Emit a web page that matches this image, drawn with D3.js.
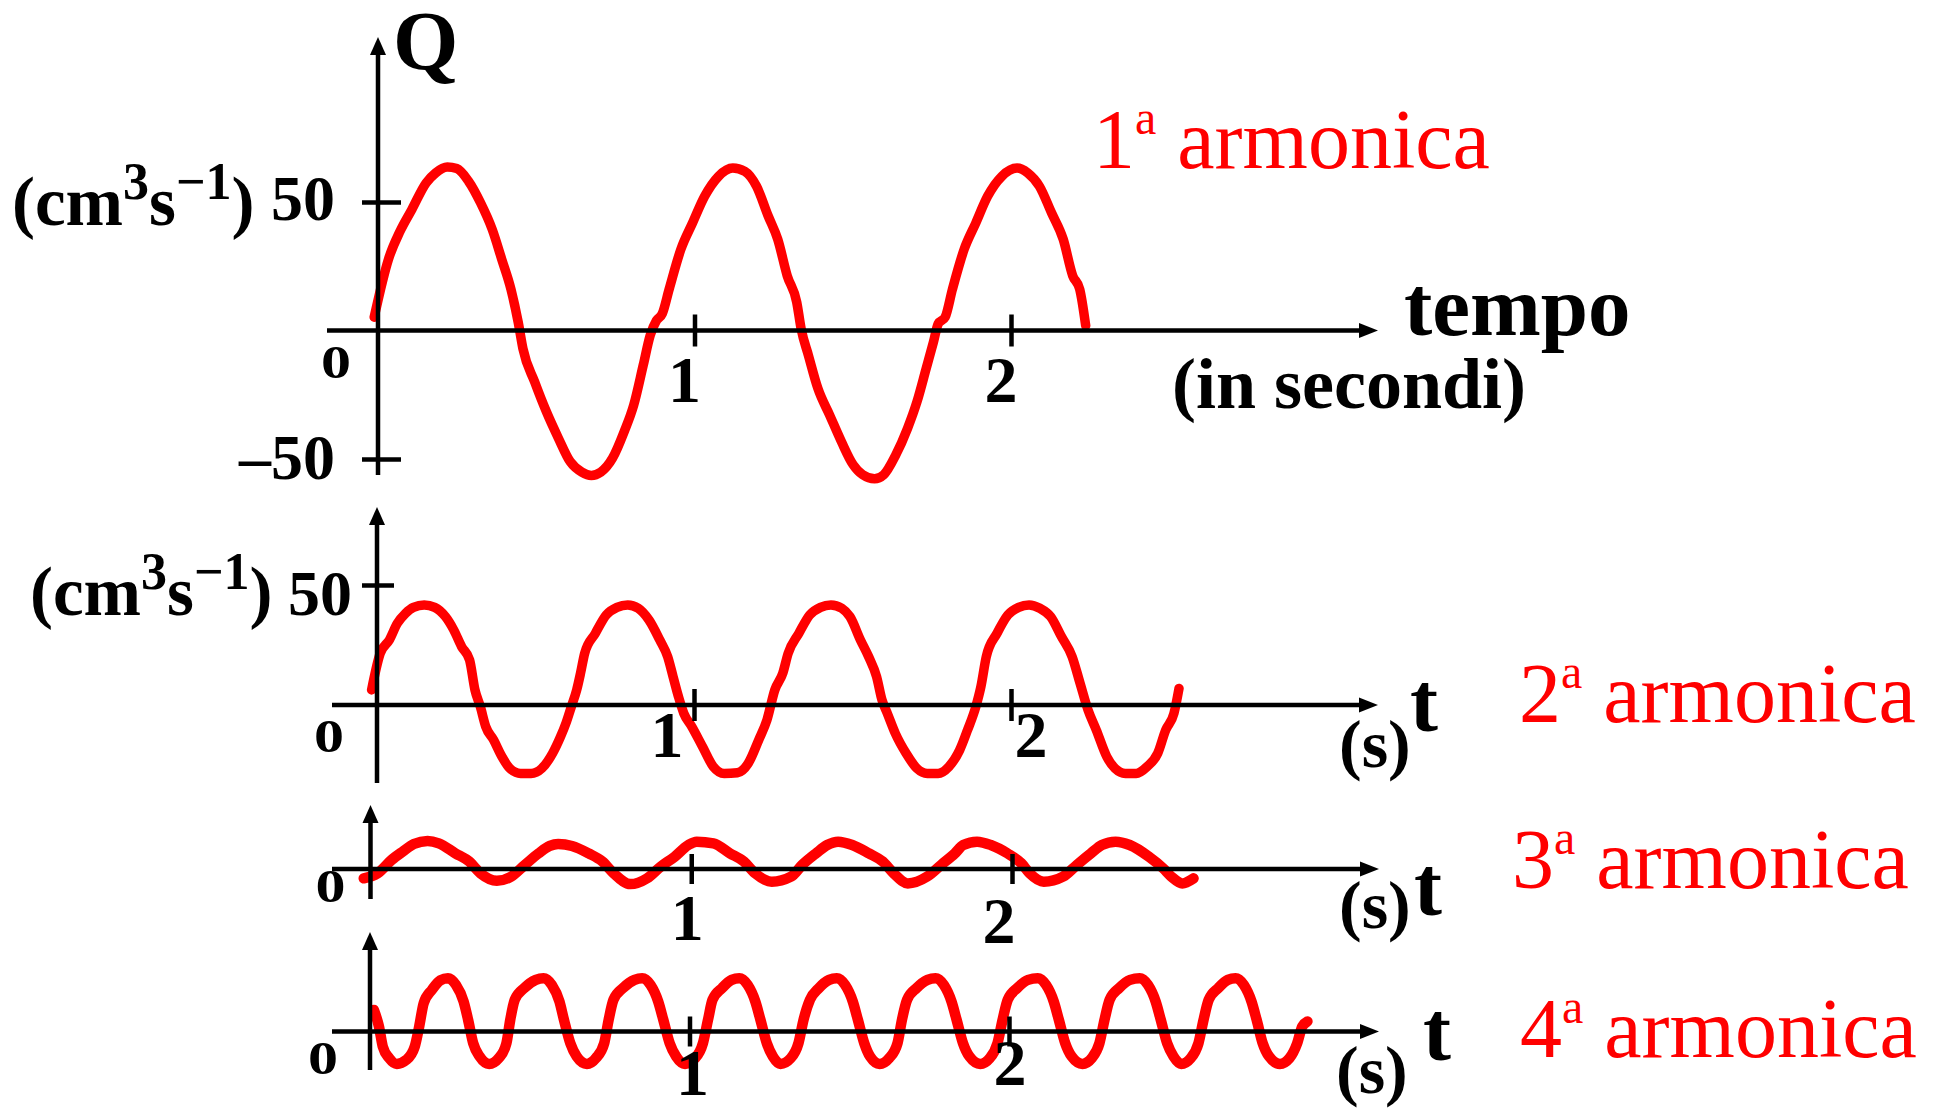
<!DOCTYPE html>
<html>
<head>
<meta charset="utf-8">
<script src="https://cdn.jsdelivr.net/npm/d3@7"></script>
<style>
  html, body { margin: 0; padding: 0; background: #fff; }
  svg { display: block; }
</style>
</head>
<body>
<svg id="chart" width="1944" height="1108"></svg>
<script>
// Flow rate Q (cm³ s⁻¹) against time t (s) for the first four harmonics.
// Each series is a list of [t, Q] samples along the drawn curve.
const armonica1 = [
  [-0.012, 5.2], [0.033, 27.7], [0.070, 38.7], [0.107, 47.1], [0.152, 57.4], [0.182, 61.3],
  [0.219, 63.6], [0.249, 63.0], [0.286, 58.1], [0.324, 49.7], [0.361, 39.3], [0.391, 27.7],
  [0.420, 16.1], [0.443, 3.2], [0.458, -7.1], [0.495, -20.0], [0.532, -31.6], [0.570, -41.9],
  [0.607, -51.0], [0.644, -55.1], [0.674, -56.4], [0.704, -55.1], [0.741, -49.7], [0.778, -39.3],
  [0.808, -29.0], [0.838, -13.5], [0.860, -1.9], [0.880, 3.9], [0.898, 6.5], [0.920, 16.1],
  [0.957, 31.6], [0.994, 41.9], [1.032, 52.2], [1.076, 60.0], [1.121, 63.2], [1.159, 61.9],
  [1.196, 56.1], [1.233, 44.5], [1.263, 35.5], [1.293, 21.3], [1.323, 11.0], [1.337, 0.6],
  [1.360, -9.7], [1.390, -22.6], [1.427, -32.9], [1.464, -43.2], [1.501, -52.2], [1.531, -56.1],
  [1.569, -57.7], [1.598, -56.1], [1.636, -48.4], [1.673, -38.1], [1.703, -27.7], [1.732, -14.8],
  [1.755, -4.5], [1.770, 2.6], [1.792, 5.2], [1.815, 16.1], [1.852, 31.6], [1.889, 41.9],
  [1.926, 52.2], [1.971, 60.0], [2.019, 63.2], [2.053, 61.3], [2.090, 56.1], [2.128, 45.8],
  [2.165, 35.5], [2.195, 21.3], [2.217, 16.1], [2.236, 1.9]
];

const armonica2 = [
  [-0.017, 6.3], [0.010, 21.5], [0.039, 27.1], [0.064, 34.0], [0.090, 38.2], [0.115, 40.7],
  [0.149, 41.7], [0.182, 40.7], [0.216, 36.8], [0.242, 31.3], [0.267, 24.3], [0.292, 18.8],
  [0.309, 6.3], [0.326, -0.7], [0.343, -9.0], [0.368, -14.6], [0.394, -21.5], [0.419, -26.4],
  [0.453, -28.5], [0.486, -28.5], [0.520, -26.4], [0.554, -20.1], [0.579, -13.2], [0.596, -7.6],
  [0.613, -0.7], [0.630, 6.3], [0.642, 13.2], [0.655, 21.5], [0.689, 29.9], [0.723, 37.5],
  [0.757, 40.7], [0.791, 41.7], [0.824, 40.3], [0.858, 35.4], [0.892, 27.1], [0.917, 20.1],
  [0.934, 11.8], [0.951, 3.5], [0.968, -3.5], [0.993, -9.0], [1.027, -17.4], [1.061, -25.7],
  [1.095, -28.5], [1.137, -28.2], [1.171, -24.3], [1.204, -14.6], [1.230, -6.3], [1.255, 6.3],
  [1.280, 13.2], [1.297, 21.5], [1.331, 29.9], [1.365, 37.5], [1.399, 40.7], [1.432, 41.7],
  [1.466, 40.3], [1.492, 36.8], [1.525, 27.1], [1.551, 20.1], [1.576, 11.8], [1.593, 2.1],
  [1.610, -3.5], [1.635, -11.8], [1.669, -20.1], [1.703, -26.4], [1.736, -28.5], [1.770, -28.5],
  [1.804, -25.7], [1.838, -18.8], [1.863, -10.4], [1.889, -0.7], [1.905, 7.6], [1.922, 20.1],
  [1.956, 29.9], [1.990, 37.5], [2.024, 40.7], [2.057, 41.7], [2.091, 40.3], [2.125, 36.8],
  [2.159, 28.5], [2.193, 20.1], [2.218, 9.0], [2.243, -2.1], [2.269, -10.4], [2.302, -21.5],
  [2.328, -26.4], [2.361, -28.5], [2.395, -28.5], [2.429, -25.7], [2.463, -20.1], [2.488, -10.4],
  [2.514, -3.5], [2.530, 6.9]
];

const armonica3 = [
  [-0.021, -3.9], [0.022, -1.8], [0.066, 3.8], [0.100, 7.2], [0.135, 10.4], [0.178, 11.7],
  [0.213, 10.7], [0.265, 6.5], [0.308, 3.1], [0.343, -1.8], [0.394, -4.9], [0.438, -3.2],
  [0.481, 1.7], [0.524, 6.5], [0.559, 9.6], [0.585, 10.4], [0.628, 9.6], [0.680, 6.5],
  [0.723, 3.1], [0.758, -1.8], [0.810, -6.3], [0.862, -3.9], [0.905, 1.0], [0.948, 5.1],
  [0.991, 10.0], [1.017, 11.4], [1.069, 10.7], [1.121, 6.5], [1.164, 3.1], [1.199, -1.8],
  [1.251, -5.3], [1.311, -3.2], [1.346, 1.7], [1.389, 6.5], [1.424, 10.0], [1.458, 11.4],
  [1.502, 10.0], [1.554, 6.5], [1.597, 3.1], [1.631, -1.8], [1.675, -6.0], [1.735, -3.2],
  [1.779, 1.7], [1.822, 6.5], [1.848, 10.0], [1.891, 11.4], [1.934, 10.0], [1.986, 6.5],
  [2.029, 2.4], [2.055, -1.8], [2.099, -5.3], [2.159, -3.2], [2.202, 1.7], [2.246, 6.5],
  [2.280, 10.0], [2.323, 11.4], [2.367, 10.0], [2.427, 5.1], [2.471, 0.3], [2.497, -3.2],
  [2.531, -6.0], [2.566, -3.9]
];

const armonica4 = [
  [0.012, 9.0], [0.028, 2.1], [0.040, -6.3], [0.060, -11.1], [0.084, -13.5], [0.114, -11.8],
  [0.140, -6.3], [0.154, 2.1], [0.168, 11.8], [0.194, 17.4], [0.220, 21.3], [0.244, 22.2],
  [0.269, 19.4], [0.293, 12.5], [0.307, 4.9], [0.323, -4.9], [0.343, -10.4], [0.373, -13.5],
  [0.403, -11.1], [0.427, -4.9], [0.439, 4.9], [0.453, 13.2], [0.483, 18.1], [0.519, 21.5],
  [0.543, 22.2], [0.569, 19.4], [0.593, 12.5], [0.607, 4.9], [0.627, -4.9], [0.647, -10.4],
  [0.679, -13.5], [0.707, -11.1], [0.733, -4.9], [0.747, 4.9], [0.762, 13.2], [0.792, 18.1],
  [0.828, 21.5], [0.852, 22.2], [0.878, 19.4], [0.902, 12.5], [0.918, 4.9], [0.938, -4.9],
  [0.958, -10.4], [0.986, -13.5], [1.018, -11.1], [1.042, -4.9], [1.058, 4.9], [1.072, 13.2],
  [1.102, 18.1], [1.132, 21.5], [1.156, 22.2], [1.182, 19.4], [1.206, 12.5], [1.222, 4.9],
  [1.242, -4.9], [1.261, -10.4], [1.285, -13.5], [1.317, -11.1], [1.341, -4.9], [1.357, 4.9],
  [1.377, 13.2], [1.405, 18.1], [1.437, 21.5], [1.461, 22.2], [1.487, 19.4], [1.511, 12.5],
  [1.527, 4.9], [1.547, -4.9], [1.565, -10.4], [1.595, -13.5], [1.625, -11.1], [1.651, -4.9],
  [1.665, 4.9], [1.681, 13.2], [1.711, 18.1], [1.745, 21.5], [1.770, 22.2], [1.796, 19.4],
  [1.820, 12.5], [1.836, 4.9], [1.856, -4.9], [1.876, -10.4], [1.910, -13.5], [1.940, -11.1],
  [1.964, -4.9], [1.980, 4.9], [1.996, 13.2], [2.026, 18.1], [2.060, 21.5], [2.090, 22.2],
  [2.116, 19.4], [2.140, 12.5], [2.156, 4.9], [2.176, -4.9], [2.196, -10.4], [2.230, -13.5],
  [2.259, -11.1], [2.283, -4.9], [2.299, 4.9], [2.315, 13.2], [2.345, 18.1], [2.379, 21.5],
  [2.409, 22.2], [2.435, 19.4], [2.459, 12.5], [2.475, 4.9], [2.495, -4.9], [2.515, -10.4],
  [2.539, -13.5], [2.569, -11.1], [2.593, -4.9], [2.609, 4.9], [2.625, 13.2], [2.655, 18.1],
  [2.685, 21.5], [2.709, 22.2], [2.735, 19.4], [2.759, 12.5], [2.775, 4.9], [2.794, -4.9],
  [2.814, -10.4], [2.848, -13.5], [2.878, -11.1], [2.902, -4.9], [2.918, 2.1], [2.934, 4.2]
];

const timeTicks = [1, 2];
const flowTicksTop = [50, -50];
const flowTicksSecond = [50];
const harmonicOrder = ["1", "2", "3", "4"];
const harmonicWord = "armonica";

// ---- layout and style ----
const RED = "#ff0000";
const INK = "#000";
const SERIF = "'Liberation Serif', 'Times New Roman', serif";
const AXIS_W = 4.5;

const svg = d3.select("#chart");

const panels = [
  {
    series: armonica1, order: harmonicOrder[0], xRange: [378, 1011],
    yDomain: [-50, 50], yRange: [459, 202], yTicks: flowTicksTop, yTickSpan: [16, 23],
    axisTop: 37, axisBottom: 475, axisLeft: 327, axisRight: 1378, xTickHalf: 16, curveW: 9.5,
    zero: { dx: -57, dy: 47 }, tickLab: [{ dx: -10, dy: 71 }, { dx: -10, dy: 71 }],
    units: { x: 12, y: 225 }, yLabEnd: 335, yLabDy: { "50": 18, "-50": 20 },
    name: { x: 1093, y: 168 }
  },
  {
    series: armonica2, order: harmonicOrder[1], xRange: [377, 1011],
    yDomain: [0, 50], yRange: [705, 585], yTicks: flowTicksSecond, yTickSpan: [15, 17],
    axisTop: 507, axisBottom: 783, axisLeft: 332, axisRight: 1378, xTickHalf: 16, curveW: 9.5,
    zero: { dx: -63, dy: 47 }, tickLab: [{ dx: -27, dy: 52 }, { dx: 20, dy: 52 }],
    units: { x: 30, y: 615 }, yLabEnd: 352, yLabDy: { "50": 30 },
    seconds: { x: 1339, y: 767 }, tee: { x: 1410, y: 731 },
    name: { x: 1519, y: 722 }
  },
  {
    series: armonica3, order: harmonicOrder[2], xRange: [370.5, 1012],
    yDomain: [0, 50], yRange: [869, 749], yTicks: [], yTickSpan: [0, 0],
    axisTop: 805, axisBottom: 899, axisLeft: 332, axisRight: 1379, xTickHalf: 15, curveW: 10.5,
    zero: { dx: -55, dy: 33 }, tickLab: [{ dx: -4, dy: 71 }, { dx: -13, dy: 74 }],
    seconds: { x: 1339, y: 928 }, tee: { x: 1414, y: 915 },
    name: { x: 1512, y: 888 }
  },
  {
    series: armonica4, order: harmonicOrder[3], xRange: [370, 1009],
    yDomain: [0, 50], yRange: [1031.5, 911.5], yTicks: [], yTickSpan: [0, 0],
    axisTop: 932, axisBottom: 1070, axisLeft: 332, axisRight: 1379, xTickHalf: 15, curveW: 10.5,
    zero: { dx: -62, dy: 42 }, tickLab: [{ dx: 3, dy: 63 }, { dx: 1, dy: 53 }],
    seconds: { x: 1336, y: 1093 }, tee: { x: 1423, y: 1060 },
    name: { x: 1520, y: 1057 }
  }
];

function boldText(g, x, y, str, size, anchor) {
  return g.append("text")
    .attr("x", x).attr("y", y)
    .attr("font-family", SERIF).attr("font-weight", "bold")
    .attr("font-size", size).attr("fill", INK)
    .attr("text-anchor", anchor || "start")
    .text(str);
}

function unitsLabel(g, x, y) {
  const t = g.append("text")
    .attr("x", x).attr("y", y)
    .attr("font-family", SERIF).attr("font-weight", "bold")
    .attr("font-size", 69).attr("fill", INK);
  t.append("tspan").text("(cm");
  t.append("tspan").attr("font-size", 52).attr("dy", -26).text("3");
  t.append("tspan").attr("dy", 26).text("s");
  t.append("tspan").attr("font-size", 52).attr("dy", -26).text("\u22121");
  t.append("tspan").attr("dy", 26).text(")");
}

function harmonicLabel(g, x, y, order) {
  const t = g.append("text")
    .attr("x", x).attr("y", y)
    .attr("font-family", SERIF).attr("font-size", 84).attr("fill", RED);
  t.append("tspan").text(order);
  t.append("tspan").attr("font-size", 48).attr("dy", -34).text("a");
  t.append("tspan").attr("dy", 34).text("\u00a0" + harmonicWord);
}

function drawPanel(p, i) {
  const x = d3.scaleLinear().domain([0, 2]).range(p.xRange);
  const y = d3.scaleLinear().domain(p.yDomain).range(p.yRange);
  const g = svg.append("g").attr("class", "panel-" + (i + 1));
  const x0 = x(0), y0 = y(0);

  // waveform
  const line = d3.line()
    .x(d => x(d[0]))
    .y(d => y(d[1]))
    .curve(d3.curveMonotoneX);
  g.append("path")
    .datum(p.series)
    .attr("d", line)
    .attr("fill", "none")
    .attr("stroke", RED)
    .attr("stroke-width", p.curveW)
    .attr("stroke-linejoin", "round")
    .attr("stroke-linecap", "round");

  // time axis with arrow
  g.append("line")
    .attr("x1", p.axisLeft).attr("x2", p.axisRight - 12)
    .attr("y1", y0).attr("y2", y0)
    .attr("stroke", INK).attr("stroke-width", AXIS_W);
  g.append("polygon")
    .attr("points", [[p.axisRight, y0], [p.axisRight - 19, y0 - 7.5], [p.axisRight - 19, y0 + 7.5]].join(" "))
    .attr("fill", INK);

  // time ticks crossing the axis
  const xa = g.append("g")
    .attr("transform", `translate(0,${y0 - p.xTickHalf})`)
    .call(d3.axisBottom(x).tickValues(timeTicks).tickSize(2 * p.xTickHalf).tickFormat(""));
  xa.select(".domain").remove();
  xa.selectAll(".tick line").attr("stroke", INK).attr("stroke-width", AXIS_W);

  // Q axis with arrow
  g.append("line")
    .attr("x1", x0).attr("x2", x0)
    .attr("y1", p.axisBottom).attr("y2", p.axisTop + 12)
    .attr("stroke", INK).attr("stroke-width", AXIS_W);
  g.append("polygon")
    .attr("points", [[x0, p.axisTop], [x0 - 8, p.axisTop + 18], [x0 + 8, p.axisTop + 18]].join(" "))
    .attr("fill", INK);

  if (p.yTicks.length) {
    const ya = g.append("g")
      .attr("transform", `translate(${x0 + p.yTickSpan[1]},0)`)
      .call(d3.axisLeft(y).tickValues(p.yTicks).tickSize(p.yTickSpan[0] + p.yTickSpan[1]).tickFormat(""));
    ya.select(".domain").remove();
    ya.selectAll(".tick line").attr("stroke", INK).attr("stroke-width", AXIS_W);

    p.yTicks.forEach(v => {
      const label = v < 0 ? "\u2013" + Math.abs(v) : String(v);
      boldText(g, p.yLabEnd, y(v) + p.yLabDy[String(v)], label, 64, "end");
    });
    unitsLabel(g, p.units.x, p.units.y);
  }

  // origin and time tick labels
  boldText(g, x0 + p.zero.dx, y0 + p.zero.dy, "0", 46)
    .attr("textLength", 30).attr("lengthAdjust", "spacingAndGlyphs");
  timeTicks.forEach((v, k) => {
    boldText(g, x(v) + p.tickLab[k].dx, y0 + p.tickLab[k].dy, String(v), 66, "middle");
  });

  if (p.seconds) {
    boldText(g, p.seconds.x, p.seconds.y, "(s)", 68);
    boldText(g, p.tee.x, p.tee.y, "t", 84);
  }

  harmonicLabel(g, p.name.x, p.name.y, p.order);
  return { x, y };
}

panels.forEach(drawPanel);

// axis titles of the top panel
boldText(svg, 393, 70, "Q", 84);
boldText(svg, 1404, 335, "tempo", 85);
boldText(svg, 1172, 408, "(in secondi)", 72);
</script>
</body>
</html>
